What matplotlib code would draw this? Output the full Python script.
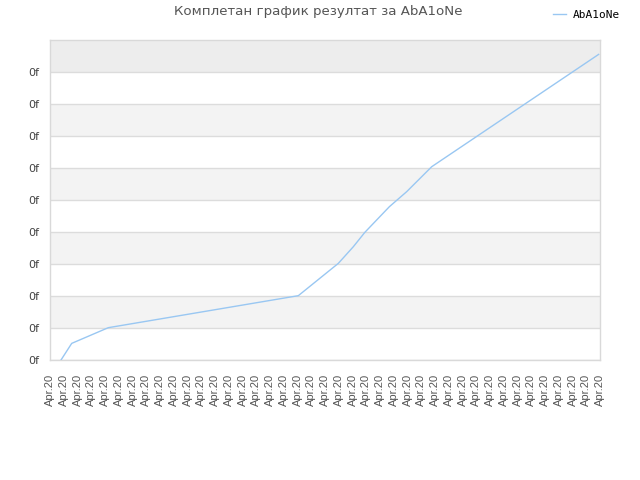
import matplotlib
matplotlib.use("Agg")
import matplotlib.pyplot as plt

# данные
title = "Комплетан график резултат за AbA1oNe"
series_name = "AbA1oNe"
x_pos = [0.8, 1.58, 4.24, 18.06, 20.97, 22.06, 22.9, 24.68, 25.94, 27.76, 39.9]
y_val = [0.0, 0.52, 1.01, 2.01, 3.02, 3.54, 3.99, 4.79, 5.26, 6.04, 9.55]
x_labels = ["Apr.20"] * 41
y_ticks = list(range(10))
y_labels = ["0f"] * 10

fig = plt.figure(figsize=(6.4, 4.8), dpi=100)
ax = fig.add_axes([50 / 640, 120 / 480, 550 / 640, 320 / 480])

# полосы фона
for k in range(10):
    if k % 2 == 1:
        ax.axhspan(k, k + 1, color="#f3f3f3", lw=0, zorder=0)
ax.axhspan(9, 10, color="#ededed", lw=0, zorder=0)
for k in y_ticks:
    ax.axhline(k, color="#dcdcdc", lw=1, zorder=1)

ax.plot(x_pos, y_val, color="#99c7f2", lw=1, zorder=3, label=series_name)

ax.set_xlim(0, 40)
ax.set_ylim(0, 10)
ax.set_xticks(range(len(x_labels)))
ax.set_xticklabels(x_labels, rotation=90, fontsize=8, color="#555555",
                   family="Liberation Sans")
ax.set_yticks(y_ticks)
ax.set_yticklabels(y_labels, fontsize=8, color="#444444", family="DejaVu Sans")
ax.tick_params(axis="x", length=0, pad=10)
ax.tick_params(axis="y", length=0, pad=8)
for s in ax.spines.values():
    s.set_color("#d9d9d9")
    s.set_linewidth(1)

fig.text(0.497, 0.975, title, ha="center", va="center", fontsize=9.6,
         color="#555555", family="DejaVu Sans")

# легенда
fig.legend(loc="upper right", bbox_to_anchor=(0.985, 1.0), frameon=False,
           prop={"family": "DejaVu Sans Mono", "size": 8},
           handlelength=1.2, handletextpad=0.6)

fig.savefig("out.png", dpi=100)
